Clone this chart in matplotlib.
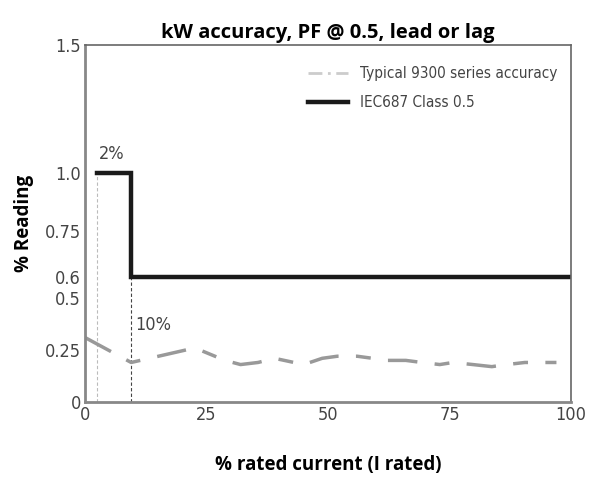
import numpy as np
import matplotlib
matplotlib.use("Agg")
import matplotlib.pyplot as plt
from matplotlib import font_manager

# tick values and where they sit on the (non-uniform) printed axis, in px above the x-axis
y_ticks = [0, 0.25, 0.5, 0.6, 0.75, 1.0, 1.5]
y_tick_labels = ["0", "0.25", "0.5", "0.6", "0.75", "1.0", "1.5"]
y_tick_px = [0, 52, 104, 125, 171, 229, 357]
x_ticks = [0, 25, 50, 75, 100]

# IEC687 Class 0.5 limit
iec_x = [2.5, 9.5, 9.5, 100]
iec_y = [1.0, 1.0, 0.6, 0.6]

# typical 9300 series accuracy
typ_x = [0, 9.5, 22.6, 28.8, 32, 35.6, 39, 45, 48.8, 51.9, 56, 62.3, 66, 69.3,
         73, 75.7, 79.8, 83.7, 86.8, 90.5, 97]
typ_y = [0.31, 0.19, 0.26, 0.20, 0.18, 0.19, 0.21, 0.18, 0.21, 0.22, 0.22, 0.20,
         0.20, 0.19, 0.18, 0.19, 0.18, 0.17, 0.18, 0.19, 0.19]


def fwd(v):
    return np.interp(v, y_ticks, y_tick_px)


def inv(p):
    return np.interp(p, y_tick_px, y_ticks)


names = {f.name for f in font_manager.fontManager.ttflist}
if 'Liberation Sans Narrow' in names:
    tick_fp = font_manager.FontProperties(family='Liberation Sans Narrow', size=14)
else:
    tick_fp = font_manager.FontProperties(family='DejaVu Sans', stretch='condensed', size=13)
label_font = ['Open Sans', 'DejaVu Sans']

fig = plt.figure(figsize=(6, 4.9), dpi=100)
fig.set_facecolor('white')
ax = fig.add_axes([0.1417, 0.1796, 0.81, 0.7286])
ax.set_yscale('function', functions=(fwd, inv))
ax.set_xlim(0, 100)
ax.set_ylim(0, 1.5)

# guide lines for the 2% and 10% steps
ax.plot([2.5, 2.5], [0, 1.0], color='#bbbbbb', lw=0.8, ls=(0, (3, 2)))
ax.plot([9.5, 9.5], [0, 0.6], color='#444444', lw=0.8, ls=(0, (3, 2)))

ax.plot(typ_x, typ_y, color='#999999', lw=2.5, ls=(0, (8.5, 5, 4.3, 5)),
        label='Typical 9300 series accuracy')
ax.plot(iec_x, iec_y, color='#1a1a1a', lw=3.2, solid_joinstyle='miter',
        label='IEC687 Class 0.5')

ax.text(2.8, 1.04, '2%', color='#444444', fontproperties=tick_fp, va='bottom')
ax.text(10.3, 0.37, '10%', color='#444444', fontproperties=tick_fp, va='center')

ax.set_yticks(y_ticks)
ax.set_yticklabels(y_tick_labels)
ax.set_xticks(x_ticks)
ax.tick_params(length=0, labelcolor='#444444', pad=3)
for t in ax.get_xticklabels() + ax.get_yticklabels():
    t.set_fontproperties(tick_fp)

for s in ['left', 'bottom']:
    ax.spines[s].set_color('#888888')
    ax.spines[s].set_linewidth(2)
for s in ['top', 'right']:
    ax.spines[s].set_color('#666666')
    ax.spines[s].set_linewidth(1.2)

# legend handles: dash-dot light gray for typical
h_typ, = ax.plot([], [], color='#cccccc', lw=2, ls=(0, (5, 2, 1, 2)))
h_iec, = ax.plot([], [], color='#1a1a1a', lw=3.2)
leg_fp = tick_fp.copy()
leg_fp.set_size(11)
leg = ax.legend([h_typ, h_iec], ['Typical 9300 series accuracy', 'IEC687 Class 0.5'],
                loc='upper right', frameon=False, handlelength=2.6,
                prop=leg_fp, labelspacing=0.95,
                bbox_to_anchor=(1.0, 0.98))
for t in leg.get_texts():
    t.set_color('#444444')

ax.set_title('kW accuracy, PF @ 0.5, lead or lag', fontsize=14.5, fontweight='bold',
             family=label_font, pad=5)
ax.set_xlabel('% rated current (I rated)', fontsize=13.5, fontweight='bold',
              family=label_font, labelpad=22)
ax.set_ylabel('% Reading', fontsize=13.5, fontweight='bold', family=label_font,
              labelpad=8)

fig.savefig('out.png', dpi=100, facecolor='white')
